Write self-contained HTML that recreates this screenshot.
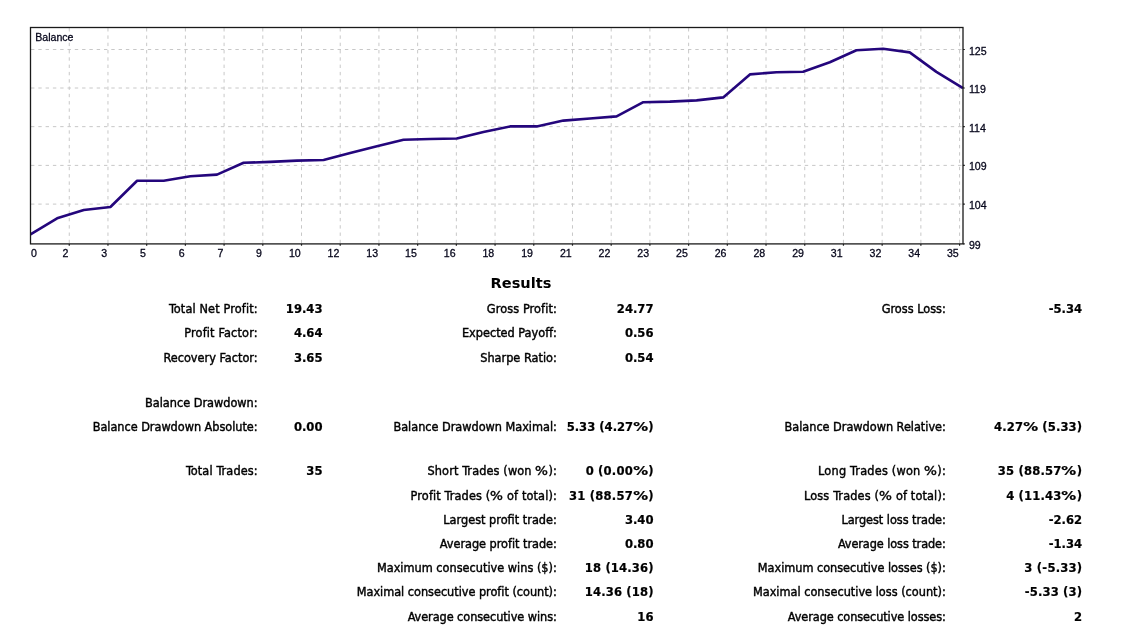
<!DOCTYPE html>
<html lang="en">
<head>
<meta charset="utf-8">
<title>Strategy Tester Report</title>
<style>
html,body{margin:0;padding:0;background:#fff;}
body{width:1143px;height:637px;position:relative;overflow:hidden;
 font-family:"DejaVu Sans Condensed","DejaVu Sans","Liberation Sans",sans-serif;
 font-stretch:condensed;font-size:12.6px;color:#000;-webkit-text-stroke:0.4px #000;}
.chart{position:absolute;left:0;top:0;display:block;}
.ax text{font-family:"Liberation Sans","DejaVu Sans Condensed",sans-serif;font-stretch:normal;font-size:10.6px;fill:#05051a;stroke:#05051a;stroke-width:0.28px;}
.row{position:absolute;left:0;width:1143px;height:24px;line-height:24px;white-space:nowrap;}
.row span{position:absolute;top:0;}
.v{font-weight:bold;font-size:12.9px;-webkit-text-stroke:0.2px #000;}
.pc{font-style:normal;display:inline-block;transform:scaleX(1.2);margin:0 1.1px;}
.v .pc{transform:scaleX(1.28);margin:0 1.7px;}
.title{position:absolute;left:0;width:1042px;height:24px;line-height:24px;text-align:center;font-family:"DejaVu Sans","Liberation Sans",sans-serif;font-stretch:normal;font-weight:bold;font-size:14.6px;-webkit-text-stroke:0;}
</style>
</head>
<body>
<svg class="chart" width="1143" height="270" viewBox="0 0 1143 270">
<g stroke="#c8c8c8" stroke-width="1" stroke-dasharray="3.4 3.9" fill="none">
<line x1="69.25" y1="28.1" x2="69.25" y2="243.9"/>
<line x1="107.96" y1="28.1" x2="107.96" y2="243.9"/>
<line x1="146.67" y1="28.1" x2="146.67" y2="243.9"/>
<line x1="185.38" y1="28.1" x2="185.38" y2="243.9"/>
<line x1="224.09" y1="28.1" x2="224.09" y2="243.9"/>
<line x1="262.80" y1="28.1" x2="262.80" y2="243.9"/>
<line x1="301.51" y1="28.1" x2="301.51" y2="243.9"/>
<line x1="340.22" y1="28.1" x2="340.22" y2="243.9"/>
<line x1="378.93" y1="28.1" x2="378.93" y2="243.9"/>
<line x1="417.64" y1="28.1" x2="417.64" y2="243.9"/>
<line x1="456.35" y1="28.1" x2="456.35" y2="243.9"/>
<line x1="495.06" y1="28.1" x2="495.06" y2="243.9"/>
<line x1="533.77" y1="28.1" x2="533.77" y2="243.9"/>
<line x1="572.48" y1="28.1" x2="572.48" y2="243.9"/>
<line x1="611.19" y1="28.1" x2="611.19" y2="243.9"/>
<line x1="649.90" y1="28.1" x2="649.90" y2="243.9"/>
<line x1="688.61" y1="28.1" x2="688.61" y2="243.9"/>
<line x1="727.32" y1="28.1" x2="727.32" y2="243.9"/>
<line x1="766.03" y1="28.1" x2="766.03" y2="243.9"/>
<line x1="804.74" y1="28.1" x2="804.74" y2="243.9"/>
<line x1="843.45" y1="28.1" x2="843.45" y2="243.9"/>
<line x1="882.16" y1="28.1" x2="882.16" y2="243.9"/>
<line x1="920.87" y1="28.1" x2="920.87" y2="243.9"/>
<line x1="959.58" y1="28.1" x2="959.58" y2="243.9"/>
<line x1="31.0" y1="49.50" x2="963.0" y2="49.50"/>
<line x1="31.0" y1="88.00" x2="963.0" y2="88.00"/>
<line x1="31.0" y1="126.65" x2="963.0" y2="126.65"/>
<line x1="31.0" y1="165.40" x2="963.0" y2="165.40"/>
<line x1="31.0" y1="204.10" x2="963.0" y2="204.10"/>
</g>
<polyline points="30.5,234.3 57.1,218.3 83.8,210.0 110.4,207.0 137.1,180.7 163.7,180.7 190.4,176.3 217.0,174.6 243.6,162.8 270.3,161.9 296.9,160.6 323.6,160.0 350.2,152.9 376.9,146.3 403.5,139.7 430.1,139.0 456.8,138.5 483.4,131.9 510.1,126.4 536.7,126.4 563.4,120.6 590.0,118.5 616.6,116.4 643.3,102.2 669.9,101.6 696.6,100.4 723.2,97.4 749.9,74.4 776.5,72.2 803.1,71.7 829.8,62.3 856.4,50.2 883.1,48.8 909.7,52.4 936.4,71.9 963.0,88.1" fill="none" stroke="#24067c" stroke-width="2.6" stroke-linejoin="round" stroke-linecap="butt"/>
<rect x="30.5" y="27.5" width="932.5" height="216.4" fill="none" stroke="#1a1a1a" stroke-width="1.3"/>
<g stroke="#1a1a1a" stroke-width="1.2">
<line x1="69.25" y1="243.9" x2="69.25" y2="245.7"/>
<line x1="107.96" y1="243.9" x2="107.96" y2="245.7"/>
<line x1="146.67" y1="243.9" x2="146.67" y2="245.7"/>
<line x1="185.38" y1="243.9" x2="185.38" y2="245.7"/>
<line x1="224.09" y1="243.9" x2="224.09" y2="245.7"/>
<line x1="262.80" y1="243.9" x2="262.80" y2="245.7"/>
<line x1="301.51" y1="243.9" x2="301.51" y2="245.7"/>
<line x1="340.22" y1="243.9" x2="340.22" y2="245.7"/>
<line x1="378.93" y1="243.9" x2="378.93" y2="245.7"/>
<line x1="417.64" y1="243.9" x2="417.64" y2="245.7"/>
<line x1="456.35" y1="243.9" x2="456.35" y2="245.7"/>
<line x1="495.06" y1="243.9" x2="495.06" y2="245.7"/>
<line x1="533.77" y1="243.9" x2="533.77" y2="245.7"/>
<line x1="572.48" y1="243.9" x2="572.48" y2="245.7"/>
<line x1="611.19" y1="243.9" x2="611.19" y2="245.7"/>
<line x1="649.90" y1="243.9" x2="649.90" y2="245.7"/>
<line x1="688.61" y1="243.9" x2="688.61" y2="245.7"/>
<line x1="727.32" y1="243.9" x2="727.32" y2="245.7"/>
<line x1="766.03" y1="243.9" x2="766.03" y2="245.7"/>
<line x1="804.74" y1="243.9" x2="804.74" y2="245.7"/>
<line x1="843.45" y1="243.9" x2="843.45" y2="245.7"/>
<line x1="882.16" y1="243.9" x2="882.16" y2="245.7"/>
<line x1="920.87" y1="243.9" x2="920.87" y2="245.7"/>
<line x1="959.58" y1="243.9" x2="959.58" y2="245.7"/>
<line x1="963.0" y1="49.50" x2="964.8" y2="49.50"/>
<line x1="963.0" y1="88.00" x2="964.8" y2="88.00"/>
<line x1="963.0" y1="126.65" x2="964.8" y2="126.65"/>
<line x1="963.0" y1="165.40" x2="964.8" y2="165.40"/>
<line x1="963.0" y1="204.10" x2="964.8" y2="204.10"/>
<line x1="963.0" y1="243.90" x2="964.8" y2="243.90"/>
</g>
<g class="ax">
<text x="35.2" y="41.4">Balance</text>
<text x="31.0" y="256.7">0</text>
<text x="68.45" y="256.7" text-anchor="end">2</text>
<text x="107.16" y="256.7" text-anchor="end">3</text>
<text x="145.87" y="256.7" text-anchor="end">5</text>
<text x="184.58" y="256.7" text-anchor="end">6</text>
<text x="223.29" y="256.7" text-anchor="end">7</text>
<text x="262.00" y="256.7" text-anchor="end">9</text>
<text x="300.71" y="256.7" text-anchor="end">10</text>
<text x="339.42" y="256.7" text-anchor="end">12</text>
<text x="378.13" y="256.7" text-anchor="end">13</text>
<text x="416.84" y="256.7" text-anchor="end">15</text>
<text x="455.55" y="256.7" text-anchor="end">16</text>
<text x="494.26" y="256.7" text-anchor="end">18</text>
<text x="532.97" y="256.7" text-anchor="end">19</text>
<text x="571.68" y="256.7" text-anchor="end">21</text>
<text x="610.39" y="256.7" text-anchor="end">22</text>
<text x="649.10" y="256.7" text-anchor="end">23</text>
<text x="687.81" y="256.7" text-anchor="end">25</text>
<text x="726.52" y="256.7" text-anchor="end">26</text>
<text x="765.23" y="256.7" text-anchor="end">28</text>
<text x="803.94" y="256.7" text-anchor="end">29</text>
<text x="842.65" y="256.7" text-anchor="end">31</text>
<text x="881.36" y="256.7" text-anchor="end">32</text>
<text x="920.07" y="256.7" text-anchor="end">34</text>
<text x="958.78" y="256.7" text-anchor="end">35</text>
<text x="968.9" y="54.50">125</text>
<text x="968.9" y="93.00">119</text>
<text x="968.9" y="131.65">114</text>
<text x="968.9" y="170.40">109</text>
<text x="968.9" y="209.10">104</text>
<text x="968.9" y="248.90">99</text>
</g>
</svg>
<div class="title" style="top:271.0px">Results</div>
<div class="row" style="top:297.3px">
<span class="l" style="right:885.4px;letter-spacing:0.13px;margin-right:-0.13px;">Total Net Profit:</span>
<span class="v" style="right:820.5px;">19.43</span>
<span class="l" style="right:586.2px;letter-spacing:0.10px;margin-right:-0.10px;">Gross Profit:</span>
<span class="v" style="right:489.5px;">24.77</span>
<span class="l" style="right:197.2px;">Gross Loss:</span>
<span class="v" style="right:60.9px;">-5.34</span>
</div>
<div class="row" style="top:321.2px">
<span class="l" style="right:885.4px;letter-spacing:0.16px;margin-right:-0.16px;">Profit Factor:</span>
<span class="v" style="right:820.5px;">4.64</span>
<span class="l" style="right:586.2px;">Expected Payoff:</span>
<span class="v" style="right:489.5px;">0.56</span>
</div>
<div class="row" style="top:345.8px">
<span class="l" style="right:885.4px;">Recovery Factor:</span>
<span class="v" style="right:820.5px;">3.65</span>
<span class="l" style="right:586.2px;">Sharpe Ratio:</span>
<span class="v" style="right:489.5px;">0.54</span>
</div>
<div class="row" style="top:390.7px">
<span class="l" style="right:885.4px;letter-spacing:-0.01px;margin-right:0.01px;">Balance Drawdown:</span>
</div>
<div class="row" style="top:415.0px">
<span class="l" style="right:885.4px;letter-spacing:-0.04px;margin-right:0.04px;">Balance Drawdown Absolute:</span>
<span class="v" style="right:820.5px;">0.00</span>
<span class="l" style="right:586.2px;letter-spacing:-0.03px;margin-right:0.03px;">Balance Drawdown Maximal:</span>
<span class="v" style="right:489.5px;">5.33 (4.27<i class="pc">%</i>)</span>
<span class="l" style="right:197.2px;letter-spacing:-0.03px;margin-right:0.03px;">Balance Drawdown Relative:</span>
<span class="v" style="right:60.9px;letter-spacing:0.11px;margin-right:-0.11px;">4.27<i class="pc">%</i> (5.33)</span>
</div>
<div class="row" style="top:459.0px">
<span class="l" style="right:885.4px;letter-spacing:0.11px;margin-right:-0.11px;">Total Trades:</span>
<span class="v" style="right:820.5px;">35</span>
<span class="l" style="right:586.2px;letter-spacing:0.12px;margin-right:-0.12px;">Short Trades (won <i class="pc">%</i>):</span>
<span class="v" style="right:489.5px;letter-spacing:0.19px;margin-right:-0.19px;">0 (0.00<i class="pc">%</i>)</span>
<span class="l" style="right:197.2px;letter-spacing:0.20px;margin-right:-0.20px;">Long Trades (won <i class="pc">%</i>):</span>
<span class="v" style="right:60.9px;letter-spacing:0.19px;margin-right:-0.19px;">35 (88.57<i class="pc">%</i>)</span>
</div>
<div class="row" style="top:483.6px">
<span class="l" style="right:586.2px;letter-spacing:0.12px;margin-right:-0.12px;">Profit Trades (<i class="pc">%</i> of total):</span>
<span class="v" style="right:489.5px;letter-spacing:0.21px;margin-right:-0.21px;">31 (88.57<i class="pc">%</i>)</span>
<span class="l" style="right:197.2px;letter-spacing:0.14px;margin-right:-0.14px;">Loss Trades (<i class="pc">%</i> of total):</span>
<span class="v" style="right:60.9px;letter-spacing:0.17px;margin-right:-0.17px;">4 (11.43<i class="pc">%</i>)</span>
</div>
<div class="row" style="top:507.6px">
<span class="l" style="right:586.2px;">Largest profit trade:</span>
<span class="v" style="right:489.5px;">3.40</span>
<span class="l" style="right:197.2px;letter-spacing:-0.05px;margin-right:0.05px;">Largest loss trade:</span>
<span class="v" style="right:60.9px;">-2.62</span>
</div>
<div class="row" style="top:531.8px">
<span class="l" style="right:586.2px;letter-spacing:-0.04px;margin-right:0.04px;">Average profit trade:</span>
<span class="v" style="right:489.5px;">0.80</span>
<span class="l" style="right:197.2px;letter-spacing:-0.09px;margin-right:0.09px;">Average loss trade:</span>
<span class="v" style="right:60.9px;">-1.34</span>
</div>
<div class="row" style="top:556.4px">
<span class="l" style="right:586.2px;">Maximum consecutive wins ($):</span>
<span class="v" style="right:489.5px;letter-spacing:0.13px;margin-right:-0.13px;">18 (14.36)</span>
<span class="l" style="right:197.2px;letter-spacing:-0.04px;margin-right:0.04px;">Maximum consecutive losses ($):</span>
<span class="v" style="right:60.9px;letter-spacing:0.20px;margin-right:-0.20px;">3 (-5.33)</span>
</div>
<div class="row" style="top:580.4px">
<span class="l" style="right:586.2px;letter-spacing:-0.03px;margin-right:0.03px;">Maximal consecutive profit (count):</span>
<span class="v" style="right:489.5px;letter-spacing:0.13px;margin-right:-0.13px;">14.36 (18)</span>
<span class="l" style="right:197.2px;">Maximal consecutive loss (count):</span>
<span class="v" style="right:60.9px;letter-spacing:0.16px;margin-right:-0.16px;">-5.33 (3)</span>
</div>
<div class="row" style="top:604.6px">
<span class="l" style="right:586.2px;letter-spacing:-0.07px;margin-right:0.07px;">Average consecutive wins:</span>
<span class="v" style="right:489.5px;">16</span>
<span class="l" style="right:197.2px;letter-spacing:-0.08px;margin-right:0.08px;">Average consecutive losses:</span>
<span class="v" style="right:60.9px;">2</span>
</div>
</body>
</html>
